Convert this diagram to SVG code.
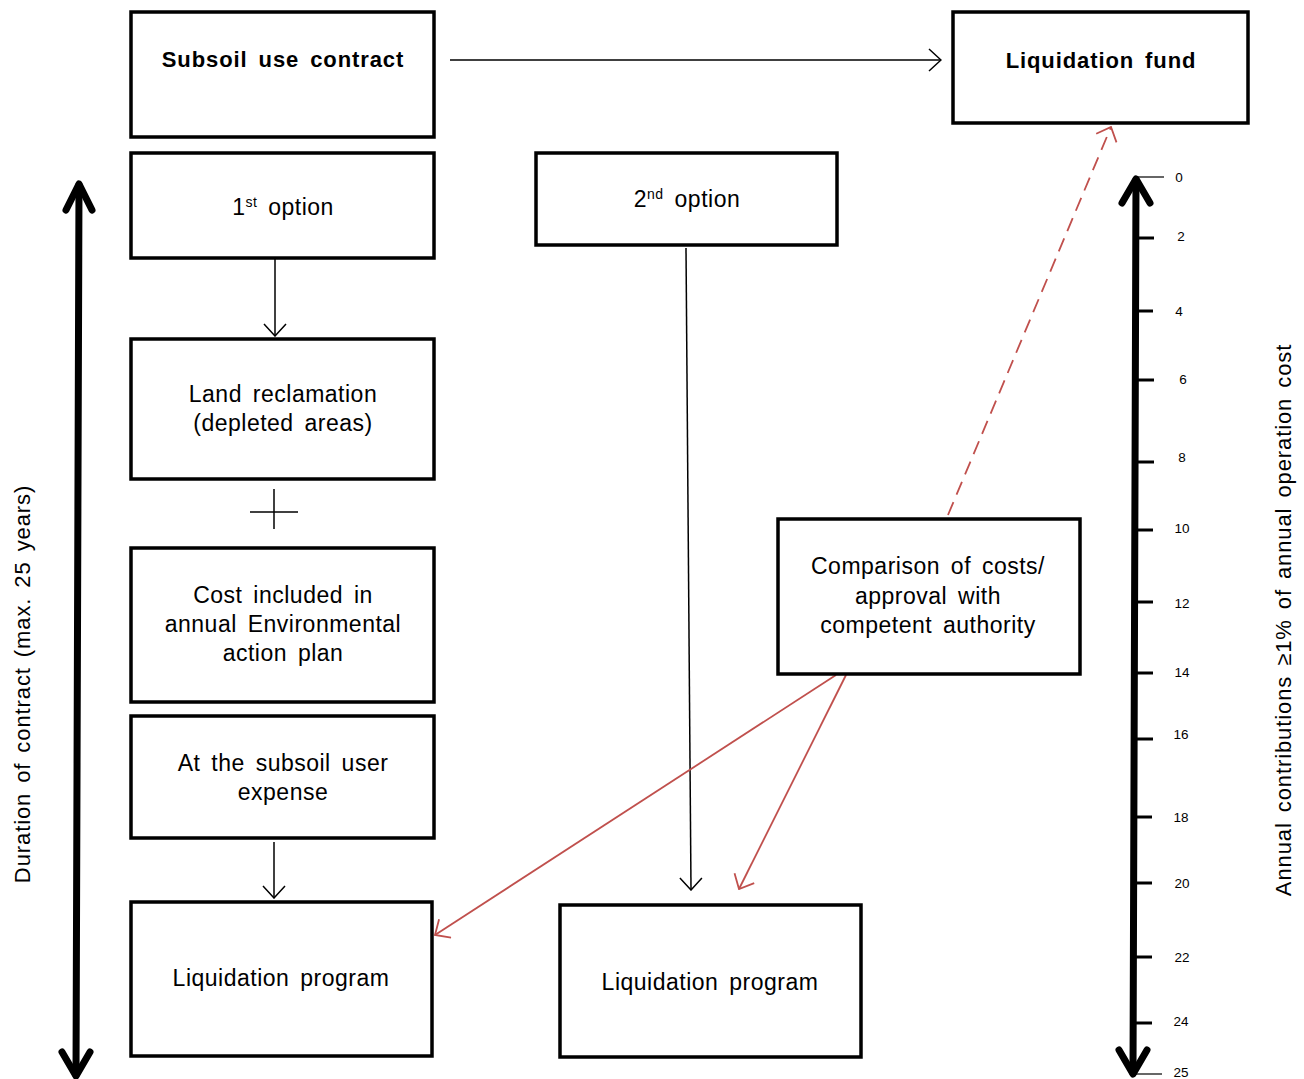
<svg xmlns="http://www.w3.org/2000/svg" width="1304" height="1079" viewBox="0 0 1304 1079">
<style>
.box{fill:#fff;stroke:#000;stroke-width:3.5}
.t{font-family:"Liberation Sans",Arial,sans-serif;font-size:23px;fill:#000;text-anchor:middle;letter-spacing:0.5px;word-spacing:4px}
.b{font-weight:bold;font-size:22px;letter-spacing:0.9px}
.rot{font-size:22px;letter-spacing:0.9px;word-spacing:3px}
.ax{font-family:"Liberation Sans",Arial,sans-serif;font-size:13.5px;fill:#000;text-anchor:middle}
.ln{stroke:#000;stroke-width:1.5;fill:none}
.red{stroke:#c0504d;stroke-width:1.8;fill:none}
.thick{stroke:#000;stroke-width:7;fill:none;stroke-linecap:round;stroke-linejoin:round}
.tick{stroke:#000;stroke-width:3}
</style>
<defs>
<marker id="ab" viewBox="0 0 14 24" refX="13" refY="12" markerWidth="14" markerHeight="24" markerUnits="userSpaceOnUse" orient="auto">
<path d="M1,1 L13,12 L1,23" fill="none" stroke="#000" stroke-width="1.5"/>
</marker>
<marker id="ar" viewBox="0 0 14 24" refX="13" refY="12" markerWidth="14" markerHeight="24" markerUnits="userSpaceOnUse" orient="auto">
<path d="M1,1 L13,12 L1,23" fill="none" stroke="#c0504d" stroke-width="1.8"/>
</marker>
</defs>
<rect width="1304" height="1079" fill="#fff"/>

<g id="connectors">
<line class="ln" x1="450" y1="60" x2="941" y2="60" marker-end="url(#ab)"/>
<line class="ln" x1="275" y1="258" x2="275" y2="336" marker-end="url(#ab)"/>
<line class="ln" x1="274" y1="842" x2="274" y2="898" marker-end="url(#ab)"/>
<line class="ln" x1="686" y1="248" x2="691" y2="890" marker-end="url(#ab)"/>
<line class="red" x1="836" y1="675" x2="435" y2="935" marker-end="url(#ar)"/>
<line class="red" x1="846" y1="675" x2="739" y2="889" marker-end="url(#ar)"/>
<line class="red" x1="948" y1="515" x2="1111" y2="127" stroke-dasharray="14,8" marker-end="url(#ar)"/>
<g id="plus"><line class="ln" x1="250" y1="512" x2="298" y2="512"/><line class="ln" x1="274" y1="489" x2="274" y2="529"/></g>
</g>

<g id="subsoil"><rect class="box" x="131" y="12" width="303" height="125"/><text class="t b" x="283" y="67">Subsoil use contract</text></g>
<g id="fund"><rect class="box" x="953" y="12" width="295" height="111"/><text class="t b" x="1101" y="68">Liquidation fund</text></g>
<g id="opt1"><rect class="box" x="131" y="153" width="303" height="105"/><text class="t" x="283" y="215">1<tspan font-size="14" dy="-8">st</tspan><tspan dy="8"> option</tspan></text></g>
<g id="opt2"><rect class="box" x="536" y="153" width="301" height="92"/><text class="t" x="687" y="207">2<tspan font-size="14" dy="-8">nd</tspan><tspan dy="8"> option</tspan></text></g>
<g id="land"><rect class="box" x="131" y="339" width="303" height="140"/><text class="t" x="283" y="402">Land reclamation</text><text class="t" x="283" y="431">(depleted areas)</text></g>
<g id="cost"><rect class="box" x="131" y="548" width="303" height="154"/><text class="t" x="283" y="603">Cost included in</text><text class="t" x="283" y="632">annual Environmental</text><text class="t" x="283" y="661">action plan</text></g>
<g id="expense"><rect class="box" x="131" y="716" width="303" height="122"/><text class="t" x="283" y="771">At the subsoil user</text><text class="t" x="283" y="800">expense</text></g>
<g id="liq1"><rect class="box" x="131" y="902" width="301" height="154"/><text class="t" x="281" y="986">Liquidation program</text></g>
<g id="liq2"><rect class="box" x="560" y="905" width="301" height="152"/><text class="t" x="710" y="990">Liquidation program</text></g>
<g id="compare"><rect class="box" x="778" y="519" width="302" height="155"/><text class="t" x="928" y="574">Comparison of costs/</text><text class="t" x="928" y="604">approval with</text><text class="t" x="928" y="633">competent authority</text></g>

<g id="duration">
<path class="thick" d="M79,185 L76,1075"/>
<path class="thick" d="M66,210 L79,184 L92,210"/>
<path class="thick" d="M62,1052 L76,1076 L90,1052"/>
<text class="t rot" transform="translate(30,684) rotate(-90)">Duration of contract (max. 25 years)</text>
</g>

<g id="axis">
<path class="thick" d="M1136,180 L1133,1073"/>
<path class="thick" d="M1122,203 L1136,179 L1150,203"/>
<path class="thick" d="M1119,1050 L1133,1074 L1147,1050"/>
<line x1="1135" y1="177" x2="1164" y2="177" stroke="#000" stroke-width="1.2"/>
<line x1="1133" y1="1074" x2="1162" y2="1074" stroke="#000" stroke-width="1.2"/>
<line class="tick" x1="1136" y1="238" x2="1154" y2="238"/>
<line class="tick" x1="1136" y1="311" x2="1153" y2="311"/>
<line class="tick" x1="1136" y1="380" x2="1154" y2="380"/>
<line class="tick" x1="1136" y1="462" x2="1154" y2="462"/>
<line class="tick" x1="1135" y1="530" x2="1153" y2="530"/>
<line class="tick" x1="1135" y1="602" x2="1153" y2="602"/>
<line class="tick" x1="1135" y1="673" x2="1153" y2="673"/>
<line class="tick" x1="1135" y1="739" x2="1153" y2="739"/>
<line class="tick" x1="1134" y1="817" x2="1152" y2="817"/>
<line class="tick" x1="1134" y1="883" x2="1152" y2="883"/>
<line class="tick" x1="1134" y1="957" x2="1152" y2="957"/>
<line class="tick" x1="1134" y1="1023" x2="1152" y2="1023"/>
<text class="ax" x="1179" y="182">0</text>
<text class="ax" x="1181" y="241">2</text>
<text class="ax" x="1179" y="316">4</text>
<text class="ax" x="1183" y="384">6</text>
<text class="ax" x="1182" y="462">8</text>
<text class="ax" x="1182" y="533">10</text>
<text class="ax" x="1182" y="608">12</text>
<text class="ax" x="1182" y="677">14</text>
<text class="ax" x="1181" y="739">16</text>
<text class="ax" x="1181" y="822">18</text>
<text class="ax" x="1182" y="888">20</text>
<text class="ax" x="1182" y="962">22</text>
<text class="ax" x="1181" y="1026">24</text>
<text class="ax" x="1181" y="1077">25</text>
<text class="t rot" transform="translate(1291,620) rotate(-90)">Annual contributions ≥1% of annual operation cost</text>
</g>
</svg>
